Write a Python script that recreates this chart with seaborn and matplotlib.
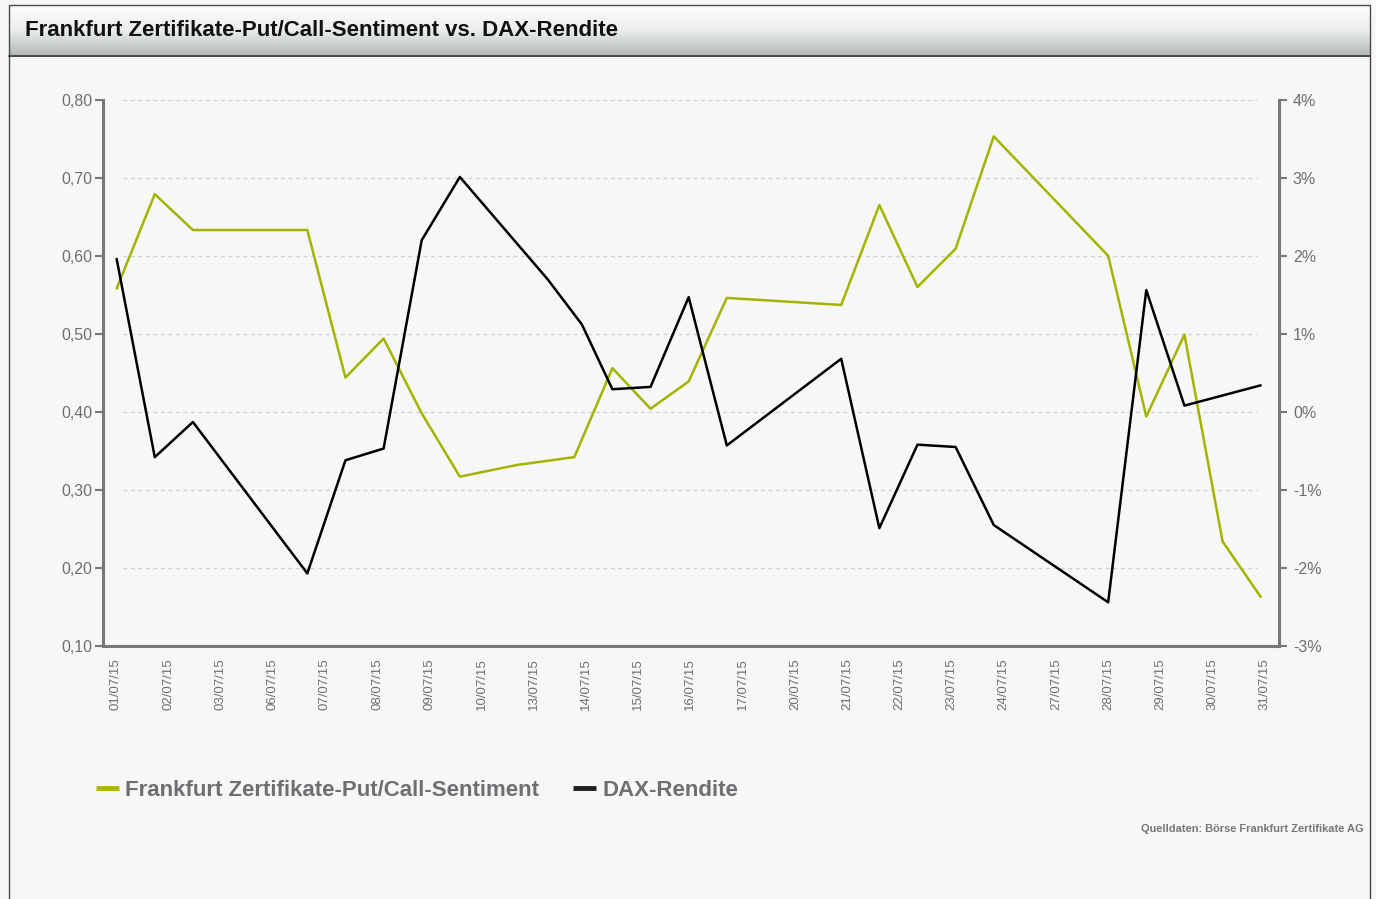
import matplotlib
matplotlib.use("Agg")
import matplotlib.pyplot as plt
import matplotlib.font_manager as fm
import numpy as np
import seaborn as sns
from matplotlib.lines import Line2D
from matplotlib.patches import Rectangle

# Trading days of July 2015 (calendar day of month) and readings
tick_labels = ["01/07/15", "02/07/15", "03/07/15", "06/07/15", "07/07/15", "08/07/15",
               "09/07/15", "10/07/15", "13/07/15", "14/07/15", "15/07/15", "16/07/15",
               "17/07/15", "20/07/15", "21/07/15", "22/07/15", "23/07/15", "24/07/15",
               "27/07/15", "28/07/15", "29/07/15", "30/07/15", "31/07/15"]

sentiment_days = [1, 2, 3, 6, 7, 8, 9, 10, 11.5, 13, 14, 15, 16, 17, 20, 21, 22, 23, 24,
                  27, 28, 29, 30, 31]
sentiment = [0.558, 0.679, 0.633, 0.633, 0.444, 0.494, 0.398, 0.317, 0.332, 0.342, 0.456,
             0.404, 0.439, 0.546, 0.537, 0.665, 0.560, 0.609, 0.753, 0.600, 0.394, 0.499,
             0.234, 0.163]

dax_days = [1, 2, 3, 6, 7, 8, 9, 10, 12.3, 13.2, 14, 15, 16, 17, 20, 21, 22, 23, 24,
            27, 28, 29, 31]
dax_return = [1.96, -0.58, -0.13, -2.07, -0.62, -0.47, 2.20, 3.01, 1.70, 1.12, 0.29, 0.32,
              1.47, -0.43, 0.68, -1.49, -0.42, -0.45, -1.45, -2.44, 1.56, 0.08, 0.34]

left_ticks = [0.10, 0.20, 0.30, 0.40, 0.50, 0.60, 0.70, 0.80]
right_ticks = [-3, -2, -1, 0, 1, 2, 3, 4]

GREEN = "#a2b400"
GREY_TXT = "#6e6e73"
SPINE = "#77777c"
BG = "#f7f7f7"

sns.set_style("white")
names = {f.name for f in fm.fontManager.ttflist}
BASE = "Liberation Sans" if "Liberation Sans" in names else "DejaVu Sans"
NARROW = "Liberation Sans Narrow" if "Liberation Sans Narrow" in names else BASE
plt.rcParams["font.family"] = [BASE, "DejaVu Sans"]

W, H = 1376, 899
fig = plt.figure(figsize=(W / 100, H / 100), dpi=100, facecolor=BG)

# header bar with gradient
hax = fig.add_axes([9 / W, 1 - 55 / H, 1361 / W, 50 / H])
grad = np.linspace(0, 1, 100).reshape(-1, 1)
cmap = matplotlib.colors.LinearSegmentedColormap.from_list("hdr", ["#fdfdfd", "#eceeee", "#b4b9ba"])
hax.imshow(grad, aspect="auto", cmap=cmap, extent=[0, 1, 0, 1])
hax.set_xlim(0, 1)
hax.set_ylim(0, 1)
hax.axis("off")
hax.text(16 / 1361, 0.5, "Frankfurt Zertifikate-Put/Call-Sentiment vs. DAX-Rendite",
         fontsize=16, fontweight="bold", family=[NARROW, "DejaVu Sans"], color="#111111",
         va="center", ha="left")

# frame lines
fig.add_artist(Rectangle((9 / W, -0.01), 1361 / W, 1 - 5 / H + 0.01, transform=fig.transFigure,
                         fill=False, edgecolor="#4a4a4a", lw=1.0))
fig.add_artist(Line2D([9 / W, 1370 / W], [1 - 55.5 / H] * 2, transform=fig.transFigure,
                      color="#3a3a3a", lw=1.3))

# main chart
ax = fig.add_axes([103.3 / W, 1 - 646 / H, 1175.7 / W, 546.3 / H])
ax.set_facecolor(BG)
sns.lineplot(x=sentiment_days, y=sentiment, ax=ax, color=GREEN, lw=1.8)
ax.set_ylim(0.10, 0.80)
ax.set_xlim(0.65, 31.48)

for v in left_ticks[1:]:
    ax.axhline(v, xmin=0.017, xmax=0.981, color="#cfcfcf", lw=0.9, ls=(0, (3, 3)), zorder=0)

ax.set_yticks(left_ticks)
ax.set_yticklabels([f"{v:.2f}".replace(".", ",") for v in left_ticks])
ax.set_xticks(np.linspace(0.98, 31.11, len(tick_labels)))
ax.set_xticklabels(tick_labels, rotation=90)
ax.set_xlabel("")
ax.set_ylabel("")

ax2 = ax.twinx()
sns.lineplot(x=dax_days, y=dax_return, ax=ax2, color="black", lw=1.8)
ax2.set_ylim(-3, 4)
ax2.set_yticks(right_ticks)
ax2.set_yticklabels([f"{v}%" for v in right_ticks])
ax2.set_ylabel("")

for a in (ax, ax2):
    for s in a.spines.values():
        s.set_visible(False)
    a.tick_params(colors=SPINE, labelcolor=GREY_TXT, width=1.5, length=6)
ax.spines["left"].set_visible(True)
ax.spines["bottom"].set_visible(True)
ax2.spines["right"].set_visible(True)
for s in (ax.spines["left"], ax.spines["bottom"], ax2.spines["right"]):
    s.set_color(SPINE)
    s.set_linewidth(2.2)
ax.tick_params(axis="y", labelsize=11.5, pad=2)
ax.tick_params(axis="x", labelsize=9.5, pad=3)
ax2.tick_params(axis="y", labelsize=11.5, pad=4)

# legend
handles = [Line2D([], [], color="#a8b800", lw=3.5, solid_capstyle="butt"),
           Line2D([], [], color="#231f20", lw=3.5, solid_capstyle="butt")]
fig.legend(handles, ["Frankfurt Zertifikate-Put/Call-Sentiment", "DAX-Rendite"],
           loc="center left", bbox_to_anchor=(76 / W, 1 - 790 / H), ncol=2, frameon=False,
           handlelength=1.05, handletextpad=0.27, columnspacing=1.5, labelcolor=GREY_TXT,
           prop={"family": [NARROW, "DejaVu Sans"], "weight": "bold", "size": 16})

fig.text(1364 / W, 1 - 829 / H, "Quelldaten: Börse Frankfurt Zertifikate AG", ha="right",
         va="center", fontsize=7.9, fontweight="bold", color="#77777b")

fig.savefig("out.png", dpi=100, facecolor=BG)
